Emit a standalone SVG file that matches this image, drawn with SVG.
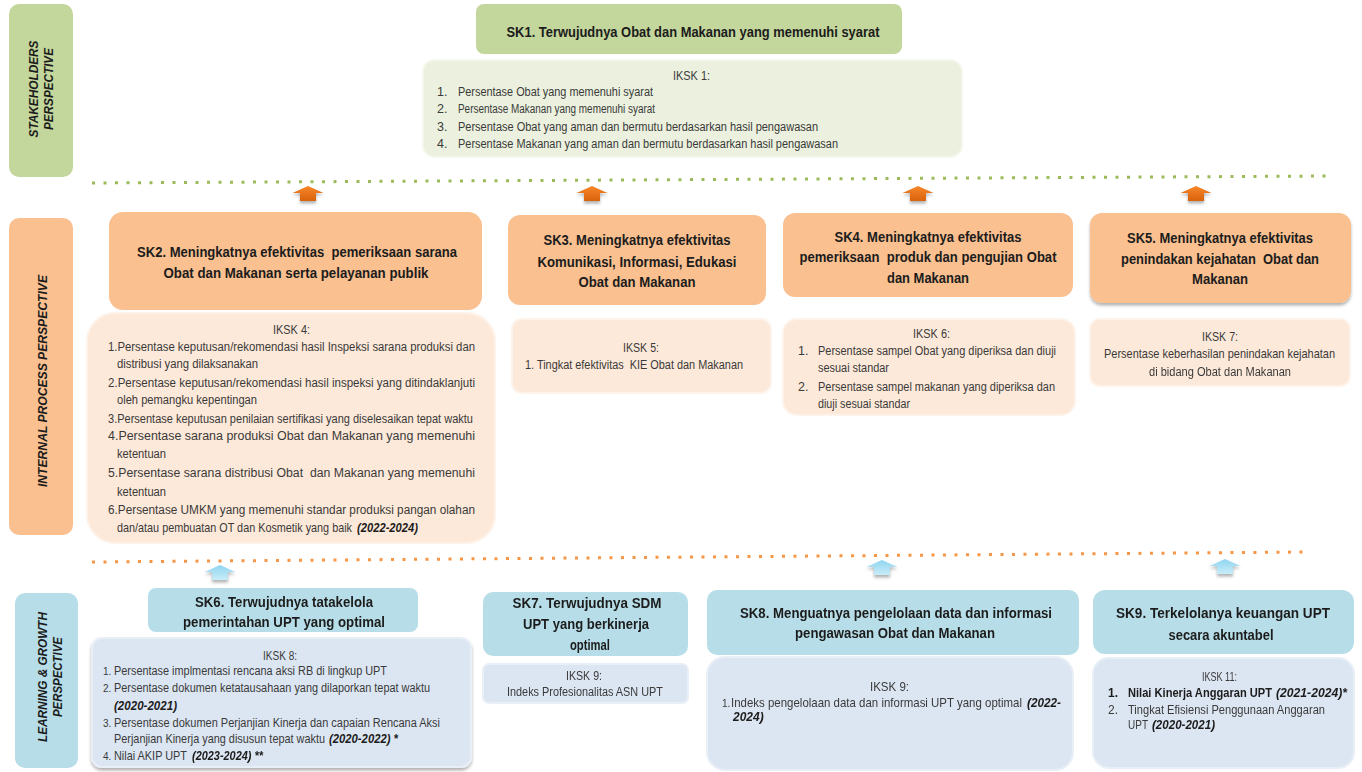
<svg xmlns="http://www.w3.org/2000/svg" width="1362" height="772" viewBox="0 0 1362 772">
<defs>
<style>
text{font-family:"Liberation Sans Narrow","Arial Narrow","Liberation Sans",Arial,sans-serif;white-space:pre}
.ttl{font-weight:bold;font-size:14.5px;fill:#1c1c1c;text-anchor:middle}
.b{font-size:12.5px;fill:#3a3a3a}
.s{font-size:12px;fill:#3a3a3a}
.bi{font-weight:bold;font-style:italic;fill:#1c1c1c}
.bo{font-weight:bold;fill:#1c1c1c}
.num{font-size:10px}
.persp{font-weight:bold;font-style:italic;font-size:13px;fill:#1c1c1c;text-anchor:middle}
.g{fill:#c3d69b}
.gl{fill:#ebf1de;stroke:#f3f7ec;stroke-width:2}
.o{fill:#fac090}
.ol{fill:#fde9d9;stroke:#fef3ea;stroke-width:2}
.bl{fill:#b7dee8}
.bll{fill:#dce6f2;stroke:#e9eff7;stroke-width:2}
.dg{stroke:#9bbb59;stroke-width:3;stroke-dasharray:3 8.5;fill:none}
.do{stroke:#f79646;stroke-width:3;stroke-dasharray:3 8.5;fill:none}
</style>
<linearGradient id="oa" x1="0" y1="0" x2="0" y2="1"><stop offset="0" stop-color="#f7862a"/><stop offset="1" stop-color="#d9620a"/></linearGradient>
<linearGradient id="ba" x1="0" y1="0" x2="0" y2="1"><stop offset="0" stop-color="#8fd5f0"/><stop offset="1" stop-color="#c8ecf8"/></linearGradient>
<filter id="sh" x="-10%" y="-10%" width="120%" height="140%"><feDropShadow dx="0" dy="2.5" stdDeviation="1.5" flood-color="#000" flood-opacity="0.3"/></filter>
<path id="arr" d="M-15.5,7 L0,0 L15.5,7 L8,7 L8,15 L-8,15 L-8,7 Z"/>
</defs>
<rect width="1362" height="772" fill="#ffffff"/>

<g id="perspectives">
<g id="p-stakeholders">
<rect class="g" x="9" y="4" width="64" height="173" rx="10"/>
<text class="persp" transform="translate(38,89) rotate(-90)" textLength="97" lengthAdjust="spacingAndGlyphs">STAKEHOLDERS</text>
<text class="persp" transform="translate(53,89) rotate(-90)" textLength="82" lengthAdjust="spacingAndGlyphs">PERSPECTIVE</text>
</g>
<g id="p-internal">
<rect class="o" x="9" y="218" width="64" height="317" rx="10"/>
<text class="persp" transform="translate(47,381) rotate(-90)" textLength="212" lengthAdjust="spacingAndGlyphs">INTERNAL PROCESS PERSPECTIVE</text>
</g>
<g id="p-learning">
<rect class="bl" x="15" y="593" width="63" height="175" rx="10"/>
<text class="persp" transform="translate(47,677) rotate(-90)" textLength="130" lengthAdjust="spacingAndGlyphs">LEARNING &amp; GROWTH</text>
<text class="persp" transform="translate(62,677) rotate(-90)" textLength="80" lengthAdjust="spacingAndGlyphs">PERSPECTIVE</text>
</g>
</g>

<g id="connectors">
<line class="dg" x1="92" y1="183" x2="1330" y2="176"/>
<line class="do" x1="92" y1="562" x2="1306" y2="552"/>
<g fill="url(#oa)" filter="url(#sh)">
<use href="#arr" x="308" y="186"/>
<use href="#arr" x="592" y="186"/>
<use href="#arr" x="918" y="186"/>
<use href="#arr" x="1196" y="186"/>
</g>
<g fill="url(#ba)" filter="url(#sh)">
<use href="#arr" x="220" y="565"/>
<use href="#arr" x="882" y="560"/>
<use href="#arr" x="1225" y="559"/>
</g>
</g>

<g id="sk1">
<rect class="g" x="476" y="4" width="426" height="50" rx="8"/>
<text class="ttl" x="693" y="37" style="font-size:15.5px" textLength="373" lengthAdjust="spacingAndGlyphs">SK1. Terwujudnya Obat dan Makanan yang memenuhi syarat</text>
</g>
<g id="iksk1">
<rect class="gl" x="423" y="60" width="539" height="97" rx="12"/>
<text class="b" x="673" y="80" textLength="37" lengthAdjust="spacingAndGlyphs">IKSK 1:</text>
<text class="b" x="437" y="96">1.</text><text class="b" x="458" y="96" textLength="195" lengthAdjust="spacingAndGlyphs">Persentase Obat yang memenuhi syarat</text>
<text class="b" x="437" y="113">2.</text><text class="b" x="458" y="113" textLength="197" lengthAdjust="spacingAndGlyphs">Persentase Makanan yang memenuhi syarat</text>
<text class="b" x="437" y="131">3.</text><text class="b" x="458" y="131" textLength="360" lengthAdjust="spacingAndGlyphs">Persentase Obat yang aman dan bermutu berdasarkan hasil pengawasan</text>
<text class="b" x="437" y="148">4.</text><text class="b" x="458" y="148" textLength="380" lengthAdjust="spacingAndGlyphs">Persentase Makanan yang aman dan bermutu berdasarkan hasil pengawasan</text>
</g>

<g id="sk2">
<rect class="o" x="109" y="212" width="373" height="98" rx="14"/>
<text class="ttl" x="297" y="257" textLength="320" lengthAdjust="spacingAndGlyphs">SK2. Meningkatnya efektivitas  pemeriksaan sarana</text>
<text class="ttl" x="296" y="278" textLength="265" lengthAdjust="spacingAndGlyphs">Obat dan Makanan serta pelayanan publik</text>
</g>
<g id="iksk4">
<rect class="ol" x="87" y="313" width="408" height="230" rx="28"/>
<text class="b" x="273" y="334" textLength="37" lengthAdjust="spacingAndGlyphs">IKSK 4:</text>
<text class="b" x="108" y="351" textLength="367" lengthAdjust="spacingAndGlyphs">1.Persentase keputusan/rekomendasi hasil Inspeksi sarana produksi dan</text>
<text class="b" x="117" y="368" textLength="141" lengthAdjust="spacingAndGlyphs">distribusi yang dilaksanakan</text>
<text class="b" x="108" y="387" textLength="367" lengthAdjust="spacingAndGlyphs">2.Persentase keputusan/rekomendasi hasil inspeksi yang ditindaklanjuti</text>
<text class="b" x="117" y="404" textLength="140" lengthAdjust="spacingAndGlyphs">oleh pemangku kepentingan</text>
<text class="b" x="108" y="423" textLength="365" lengthAdjust="spacingAndGlyphs">3.Persentase keputusan penilaian sertifikasi yang diselesaikan tepat waktu</text>
<text class="b" x="108" y="440" textLength="367" lengthAdjust="spacingAndGlyphs">4.Persentase sarana produksi Obat dan Makanan yang memenuhi</text>
<text class="b" x="117" y="458" textLength="49" lengthAdjust="spacingAndGlyphs">ketentuan</text>
<text class="b" x="108" y="477" textLength="367" lengthAdjust="spacingAndGlyphs">5.Persentase sarana distribusi Obat  dan Makanan yang memenuhi</text>
<text class="b" x="117" y="496" textLength="49" lengthAdjust="spacingAndGlyphs">ketentuan</text>
<text class="b" x="108" y="514" textLength="367" lengthAdjust="spacingAndGlyphs">6.Persentase UMKM yang memenuhi standar produksi pangan olahan</text>
<text class="b" transform="matrix(0.8 0 0 1 117 532)" x="0" y="0" textLength="293.75" lengthAdjust="spacingAndGlyphs">dan/atau pembuatan OT dan Kosmetik yang baik</text>
<text class="b bi" x="357" y="532" textLength="61" lengthAdjust="spacingAndGlyphs">(2022-2024)</text>
</g>

<g id="sk3">
<rect class="o" x="508" y="215" width="258" height="90" rx="12"/>
<text class="ttl" x="637" y="245" textLength="187" lengthAdjust="spacingAndGlyphs">SK3. Meningkatnya efektivitas</text>
<text class="ttl" x="637" y="267" textLength="199" lengthAdjust="spacingAndGlyphs">Komunikasi, Informasi, Edukasi</text>
<text class="ttl" x="637" y="287" textLength="117" lengthAdjust="spacingAndGlyphs">Obat dan Makanan</text>
</g>
<g id="iksk5">
<rect class="ol" x="512" y="319" width="259" height="74" rx="10"/>
<text class="b" x="623" y="352" textLength="36" lengthAdjust="spacingAndGlyphs">IKSK 5:</text>
<text class="b" x="525" y="369" textLength="218" lengthAdjust="spacingAndGlyphs">1. Tingkat efektivitas  KIE Obat dan Makanan</text>
</g>

<g id="sk4">
<rect class="o" x="783" y="213" width="290" height="84" rx="12"/>
<text class="ttl" x="928" y="242" textLength="187" lengthAdjust="spacingAndGlyphs">SK4. Meningkatnya efektivitas</text>
<text class="ttl" x="928" y="262" textLength="257" lengthAdjust="spacingAndGlyphs">pemeriksaan  produk dan pengujian Obat</text>
<text class="ttl" x="928" y="283" textLength="82" lengthAdjust="spacingAndGlyphs">dan Makanan</text>
</g>
<g id="iksk6">
<rect class="ol" x="783" y="319" width="292" height="96" rx="14"/>
<text class="b" x="913" y="338" textLength="37" lengthAdjust="spacingAndGlyphs">IKSK 6:</text>
<text class="b" x="798" y="355">1.</text><text class="b" x="818" y="355" textLength="238" lengthAdjust="spacingAndGlyphs">Persentase sampel Obat yang diperiksa dan diuji</text>
<text class="b" x="818" y="372" textLength="71" lengthAdjust="spacingAndGlyphs">sesuai standar</text>
<text class="b" x="798" y="391">2.</text><text class="b" x="818" y="391" textLength="237" lengthAdjust="spacingAndGlyphs">Persentase sampel makanan yang diperiksa dan</text>
<text class="b" x="818" y="408" textLength="92" lengthAdjust="spacingAndGlyphs">diuji sesuai standar</text>
</g>

<g id="sk5">
<rect class="o" x="1090" y="213" width="261" height="90" rx="12" filter="url(#sh)"/>
<text class="ttl" x="1220" y="243" textLength="186" lengthAdjust="spacingAndGlyphs">SK5. Meningkatnya efektivitas</text>
<text class="ttl" x="1220" y="264" textLength="198" lengthAdjust="spacingAndGlyphs">penindakan kejahatan  Obat dan</text>
<text class="ttl" x="1220" y="284" textLength="56" lengthAdjust="spacingAndGlyphs">Makanan</text>
</g>
<g id="iksk7">
<rect class="ol" x="1090" y="319" width="260" height="67" rx="10"/>
<text class="b" x="1202" y="341" textLength="36" lengthAdjust="spacingAndGlyphs">IKSK 7:</text>
<text class="b" transform="matrix(0.8 0 0 1 1104 358)" x="0" y="0" textLength="288.75" lengthAdjust="spacingAndGlyphs">Persentase keberhasilan penindakan kejahatan</text>
<text class="b" x="1149" y="376" textLength="142" lengthAdjust="spacingAndGlyphs">di bidang Obat dan Makanan</text>
</g>

<g id="sk6">
<rect class="bl" x="148" y="588" width="270" height="44" rx="8"/>
<text class="ttl" x="284" y="607" textLength="178" lengthAdjust="spacingAndGlyphs">SK6. Terwujudnya tatakelola</text>
<text class="ttl" x="284" y="627" textLength="202" lengthAdjust="spacingAndGlyphs">pemerintahan UPT yang optimal</text>
</g>
<g id="iksk8">
<rect class="bll" x="92" y="638" width="379" height="129" rx="10" filter="url(#sh)"/>
<text class="s" x="263" y="660" textLength="34" lengthAdjust="spacingAndGlyphs">IKSK 8:</text>
<text class="s num" x="103" y="675">1.</text><text class="s" x="114" y="675" textLength="273" lengthAdjust="spacingAndGlyphs">Persentase implmentasi rencana aksi RB di lingkup UPT</text>
<text class="s num" x="103" y="692">2.</text><text class="s" x="114" y="692" textLength="316" lengthAdjust="spacingAndGlyphs">Persentase dokumen ketatausahaan yang dilaporkan tepat waktu</text>
<text class="s bi" x="114" y="710" textLength="63" lengthAdjust="spacingAndGlyphs">(2020-2021)</text>
<text class="s num" x="103" y="727">3.</text><text class="s" x="114" y="727" textLength="326" lengthAdjust="spacingAndGlyphs">Persentase dokumen Perjanjian Kinerja dan capaian Rencana Aksi</text>
<text class="s" transform="matrix(0.8 0 0 1 114 743)" x="0" y="0" textLength="263.75" lengthAdjust="spacingAndGlyphs">Perjanjian Kinerja yang disusun tepat waktu</text>
<text class="s bi" x="329" y="743" textLength="69" lengthAdjust="spacingAndGlyphs">(2020-2022) *</text>
<text class="s num" x="103" y="760">4.</text>
<text class="s" transform="matrix(0.8 0 0 1 114 760)" x="0" y="0" textLength="91.25" lengthAdjust="spacingAndGlyphs">Nilai AKIP UPT</text>
<text class="s bi" x="192" y="760" textLength="71" lengthAdjust="spacingAndGlyphs">(2023-2024) **</text>
</g>

<g id="sk7">
<rect class="bl" x="483" y="592" width="205" height="64" rx="10"/>
<text class="ttl" x="587" y="608" textLength="149" lengthAdjust="spacingAndGlyphs">SK7. Terwujudnya SDM</text>
<text class="ttl" x="586" y="629" textLength="126" lengthAdjust="spacingAndGlyphs">UPT yang berkinerja</text>
<text class="ttl" x="590" y="650" textLength="40" lengthAdjust="spacingAndGlyphs">optimal</text>
</g>
<g id="iksk9a">
<rect class="bll" x="483" y="664" width="205" height="39" rx="6"/>
<text class="s" x="566" y="680" textLength="36" lengthAdjust="spacingAndGlyphs">IKSK 9:</text>
<text class="s" x="507" y="696" textLength="156" lengthAdjust="spacingAndGlyphs">Indeks Profesionalitas ASN UPT</text>
</g>

<g id="sk8">
<rect class="bl" x="707" y="590" width="372" height="65" rx="10"/>
<text class="ttl" x="896" y="618" textLength="312" lengthAdjust="spacingAndGlyphs">SK8. Menguatnya pengelolaan data dan informasi</text>
<text class="ttl" x="895" y="638" textLength="200" lengthAdjust="spacingAndGlyphs">pengawasan Obat dan Makanan</text>
</g>
<g id="iksk9b">
<rect class="bll" x="707" y="657" width="366" height="113" rx="18"/>
<text class="s" x="870" y="691" textLength="39" lengthAdjust="spacingAndGlyphs">IKSK 9:</text>
<text class="s num" x="722" y="707">1.</text>
<text class="s" transform="matrix(0.8 0 0 1 731 707)" x="0" y="0" textLength="363.75" lengthAdjust="spacingAndGlyphs">Indeks pengelolaan data dan informasi UPT yang optimal</text>
<text class="s bi" x="1027" y="707" textLength="34" lengthAdjust="spacingAndGlyphs">(2022-</text>
<text class="s bi" x="733" y="721">2024)</text>
</g>

<g id="sk9">
<rect class="bl" x="1093" y="590" width="261" height="64" rx="12"/>
<text class="ttl" x="1223" y="618" textLength="214" lengthAdjust="spacingAndGlyphs">SK9. Terkelolanya keuangan UPT</text>
<text class="ttl" x="1221" y="640" textLength="105" lengthAdjust="spacingAndGlyphs">secara akuntabel</text>
</g>
<g id="iksk11">
<rect class="bll" x="1093" y="658" width="261" height="110" rx="16"/>
<text class="s" x="1202" y="681" textLength="35" lengthAdjust="spacingAndGlyphs">IKSK 11:</text>
<text class="s bo" x="1108" y="697">1.</text>
<text class="s bo" transform="matrix(0.8 0 0 1 1128 697)" x="0" y="0" textLength="180" lengthAdjust="spacingAndGlyphs">Nilai Kinerja Anggaran UPT</text>
<text class="s bi" x="1276" y="697" textLength="71" lengthAdjust="spacingAndGlyphs">(2021-2024)*</text>
<text class="s" x="1108" y="714">2.</text><text class="s" x="1128" y="714" textLength="197" lengthAdjust="spacingAndGlyphs">Tingkat Efisiensi Penggunaan Anggaran</text>
<text class="s" x="1128" y="729" textLength="20" lengthAdjust="spacingAndGlyphs">UPT</text>
<text class="s bi" x="1152" y="729" textLength="63" lengthAdjust="spacingAndGlyphs">(2020-2021)</text>
</g>
</svg>
